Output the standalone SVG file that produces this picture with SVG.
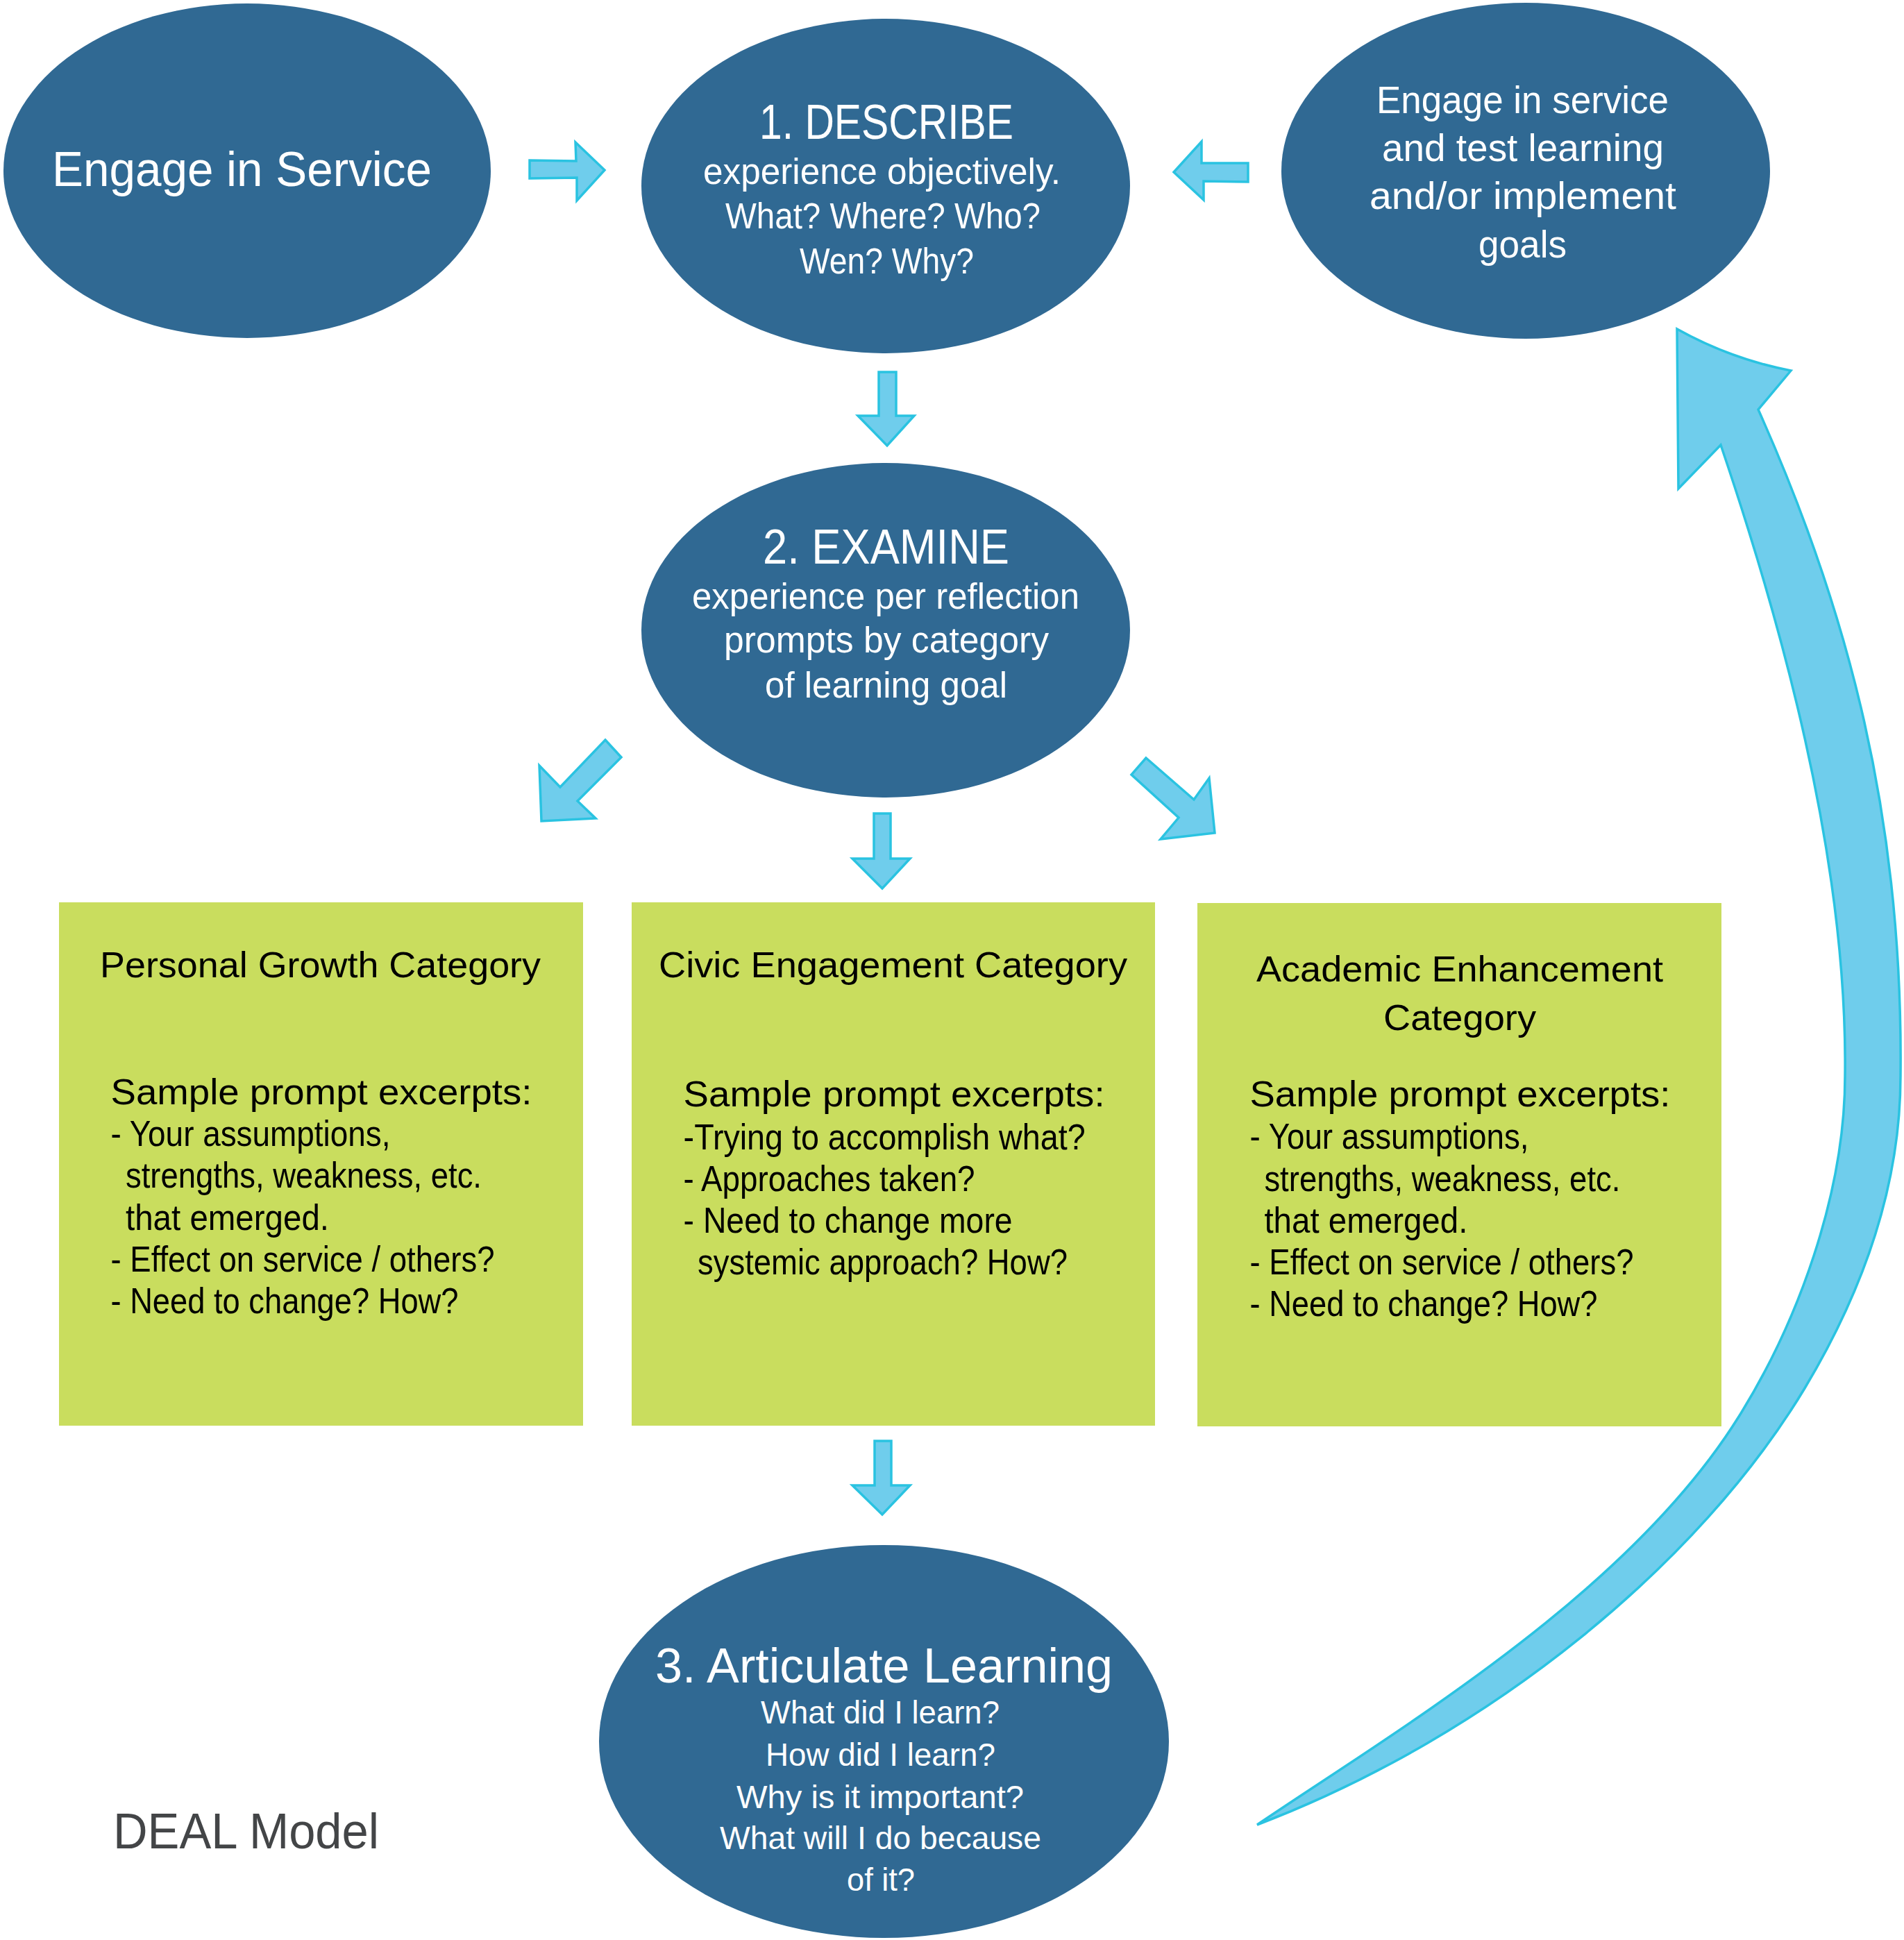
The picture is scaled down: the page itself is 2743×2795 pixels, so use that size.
<svg xmlns="http://www.w3.org/2000/svg" width="2743" height="2795" viewBox="0 0 2743 2795">
<style>
.ell{fill:#306993}
.box{fill:#C9DD5E}
.arrow{fill:#6FCDEC;stroke:#2AC3E1;stroke-width:3.5;stroke-linejoin:miter}
text{font-family:"Liberation Sans",Arial,sans-serif}
.wh{fill:#ffffff}
.hd{font-size:70px}
.sub{font-size:51px}
.rt{font-size:55px}
.q{font-size:47px}
.bx{font-size:52px;fill:#000000}
.deal{font-size:72px;fill:#434547}
</style>
<rect x="0" y="0" width="2743" height="2795" fill="#ffffff"/>

<g id="connectors">
  <polygon class="arrow" points="763,231 830,232 829,205 871,245 831,289 831,256 763,257"/>
  <polygon class="arrow" points="1691,248 1731,204 1731,235 1798,235 1798,262 1734,261 1734,288"/>
  <polygon class="arrow" points="1266,536 1291,536 1291,599 1317,599 1278,642 1236,599 1266,599"/>
  <polygon class="arrow" points="872,1066 895,1091 832,1154 858,1179 780,1183 777,1103 807,1134"/>
  <polygon class="arrow" points="1259,1172 1283,1172 1283,1237 1311,1237 1271,1280 1228,1237 1259,1237"/>
  <polygon class="arrow" points="1651,1092 1720,1152 1742,1121 1750,1200 1672,1209 1698,1178 1630,1116"/>
  <polygon class="arrow" points="1260,2076 1284,2076 1284,2140 1311,2140 1271,2182 1228,2140 1260,2140"/>
  <path class="arrow" d="M 1811,2629 C 2150,2500 2450,2250 2600,2000 C 2690,1850 2738,1700 2738,1550 C 2742,1180 2663,880 2533,590 L 2580,534 Q 2493,517 2416,474 L 2418,704 L 2479,641 C 2560,880 2662,1230 2658,1550 C 2658,1720 2590,1905 2505,2041 C 2346,2296 2018,2489 1811,2629 Z"/>
</g>

<g id="engage-in-service">
  <ellipse class="ell" cx="356" cy="246" rx="351" ry="241"/>
  <text class="wh hd" x="75" y="268" textLength="547" lengthAdjust="spacingAndGlyphs">Engage in Service</text>
</g>

<g id="describe">
  <ellipse class="ell" cx="1276" cy="268" rx="352" ry="241"/>
  <text class="wh hd" x="1094" y="200" textLength="366" lengthAdjust="spacingAndGlyphs">1. DESCRIBE</text>
  <text class="wh sub" x="1013" y="265" textLength="515" lengthAdjust="spacingAndGlyphs">experience objectively.</text>
  <text class="wh sub" x="1045" y="329" textLength="454" lengthAdjust="spacingAndGlyphs">What? Where? Who?</text>
  <text class="wh sub" x="1152" y="394" textLength="251" lengthAdjust="spacingAndGlyphs">Wen? Why?</text>
</g>

<g id="engage-test">
  <ellipse class="ell" cx="2198" cy="246" rx="352" ry="242"/>
  <text class="wh rt" x="1983" y="163" textLength="421" lengthAdjust="spacingAndGlyphs">Engage in service</text>
  <text class="wh rt" x="1991" y="232" textLength="406" lengthAdjust="spacingAndGlyphs">and test learning</text>
  <text class="wh rt" x="1973" y="301" textLength="442" lengthAdjust="spacingAndGlyphs">and/or implement</text>
  <text class="wh rt" x="2130" y="371" textLength="127" lengthAdjust="spacingAndGlyphs">goals</text>
</g>

<g id="examine">
  <ellipse class="ell" cx="1276" cy="908" rx="352" ry="241"/>
  <text class="wh hd" x="1099" y="812" textLength="355" lengthAdjust="spacingAndGlyphs">2. EXAMINE</text>
  <text class="wh sub" x="997" y="877" textLength="558" lengthAdjust="spacingAndGlyphs">experience per reflection</text>
  <text class="wh sub" x="1043" y="940" textLength="468" lengthAdjust="spacingAndGlyphs">prompts by category</text>
  <text class="wh sub" x="1102" y="1005" textLength="349" lengthAdjust="spacingAndGlyphs">of learning goal</text>
</g>

<g id="personal-growth">
  <rect class="box" x="85" y="1300" width="755" height="754"/>
  <text class="bx" x="144" y="1408" textLength="635" lengthAdjust="spacingAndGlyphs">Personal Growth Category</text>
  <text class="bx" x="159.5" y="1591" textLength="607" lengthAdjust="spacingAndGlyphs">Sample prompt excerpts:</text>
  <text class="bx" x="159.5" y="1651" textLength="403" lengthAdjust="spacingAndGlyphs">- Your assumptions,</text>
  <text class="bx" x="181" y="1711" textLength="513" lengthAdjust="spacingAndGlyphs">strengths, weakness, etc.</text>
  <text class="bx" x="181" y="1772" textLength="293" lengthAdjust="spacingAndGlyphs">that emerged.</text>
  <text class="bx" x="159.5" y="1832" textLength="553" lengthAdjust="spacingAndGlyphs">- Effect on service / others?</text>
  <text class="bx" x="159.5" y="1892" textLength="501" lengthAdjust="spacingAndGlyphs">- Need to change? How?</text>
</g>

<g id="civic-engagement">
  <rect class="box" x="910" y="1300" width="754" height="754"/>
  <text class="bx" x="949" y="1408" textLength="675" lengthAdjust="spacingAndGlyphs">Civic Engagement Category</text>
  <text class="bx" x="984.6" y="1594" textLength="607" lengthAdjust="spacingAndGlyphs">Sample prompt excerpts:</text>
  <text class="bx" x="984.6" y="1656" textLength="579" lengthAdjust="spacingAndGlyphs">-Trying to accomplish what?</text>
  <text class="bx" x="984.6" y="1716" textLength="420" lengthAdjust="spacingAndGlyphs">- Approaches taken?</text>
  <text class="bx" x="984.6" y="1776" textLength="474" lengthAdjust="spacingAndGlyphs">- Need to change more</text>
  <text class="bx" x="1005" y="1836" textLength="533" lengthAdjust="spacingAndGlyphs">systemic approach? How?</text>
</g>

<g id="academic-enhancement">
  <rect class="box" x="1725" y="1301" width="755" height="754"/>
  <text class="bx" x="1810" y="1414" textLength="586" lengthAdjust="spacingAndGlyphs">Academic Enhancement</text>
  <text class="bx" x="1993" y="1484" textLength="220" lengthAdjust="spacingAndGlyphs">Category</text>
  <text class="bx" x="1800.5" y="1594" textLength="606" lengthAdjust="spacingAndGlyphs">Sample prompt excerpts:</text>
  <text class="bx" x="1800.5" y="1655" textLength="402" lengthAdjust="spacingAndGlyphs">- Your assumptions,</text>
  <text class="bx" x="1821.4" y="1716" textLength="513" lengthAdjust="spacingAndGlyphs">strengths, weakness, etc.</text>
  <text class="bx" x="1821.4" y="1776" textLength="293" lengthAdjust="spacingAndGlyphs">that emerged.</text>
  <text class="bx" x="1800.5" y="1836" textLength="553" lengthAdjust="spacingAndGlyphs">- Effect on service / others?</text>
  <text class="bx" x="1800.5" y="1896" textLength="501" lengthAdjust="spacingAndGlyphs">- Need to change? How?</text>
</g>

<g id="articulate">
  <ellipse class="ell" cx="1273.5" cy="2509" rx="410.5" ry="283"/>
  <text class="wh hd" x="944" y="2424" textLength="659" lengthAdjust="spacingAndGlyphs">3. Articulate Learning</text>
  <text class="wh q" x="1096" y="2483" textLength="344" lengthAdjust="spacingAndGlyphs">What did I learn?</text>
  <text class="wh q" x="1103" y="2544" textLength="331" lengthAdjust="spacingAndGlyphs">How did I learn?</text>
  <text class="wh q" x="1061" y="2605" textLength="414" lengthAdjust="spacingAndGlyphs">Why is it important?</text>
  <text class="wh q" x="1037" y="2664" textLength="463" lengthAdjust="spacingAndGlyphs">What will I do because</text>
  <text class="wh q" x="1220" y="2724" textLength="98" lengthAdjust="spacingAndGlyphs">of it?</text>
</g>

<g id="deal-model">
  <text class="deal" x="163" y="2663" textLength="383" lengthAdjust="spacingAndGlyphs">DEAL Model</text>
</g>
</svg>
